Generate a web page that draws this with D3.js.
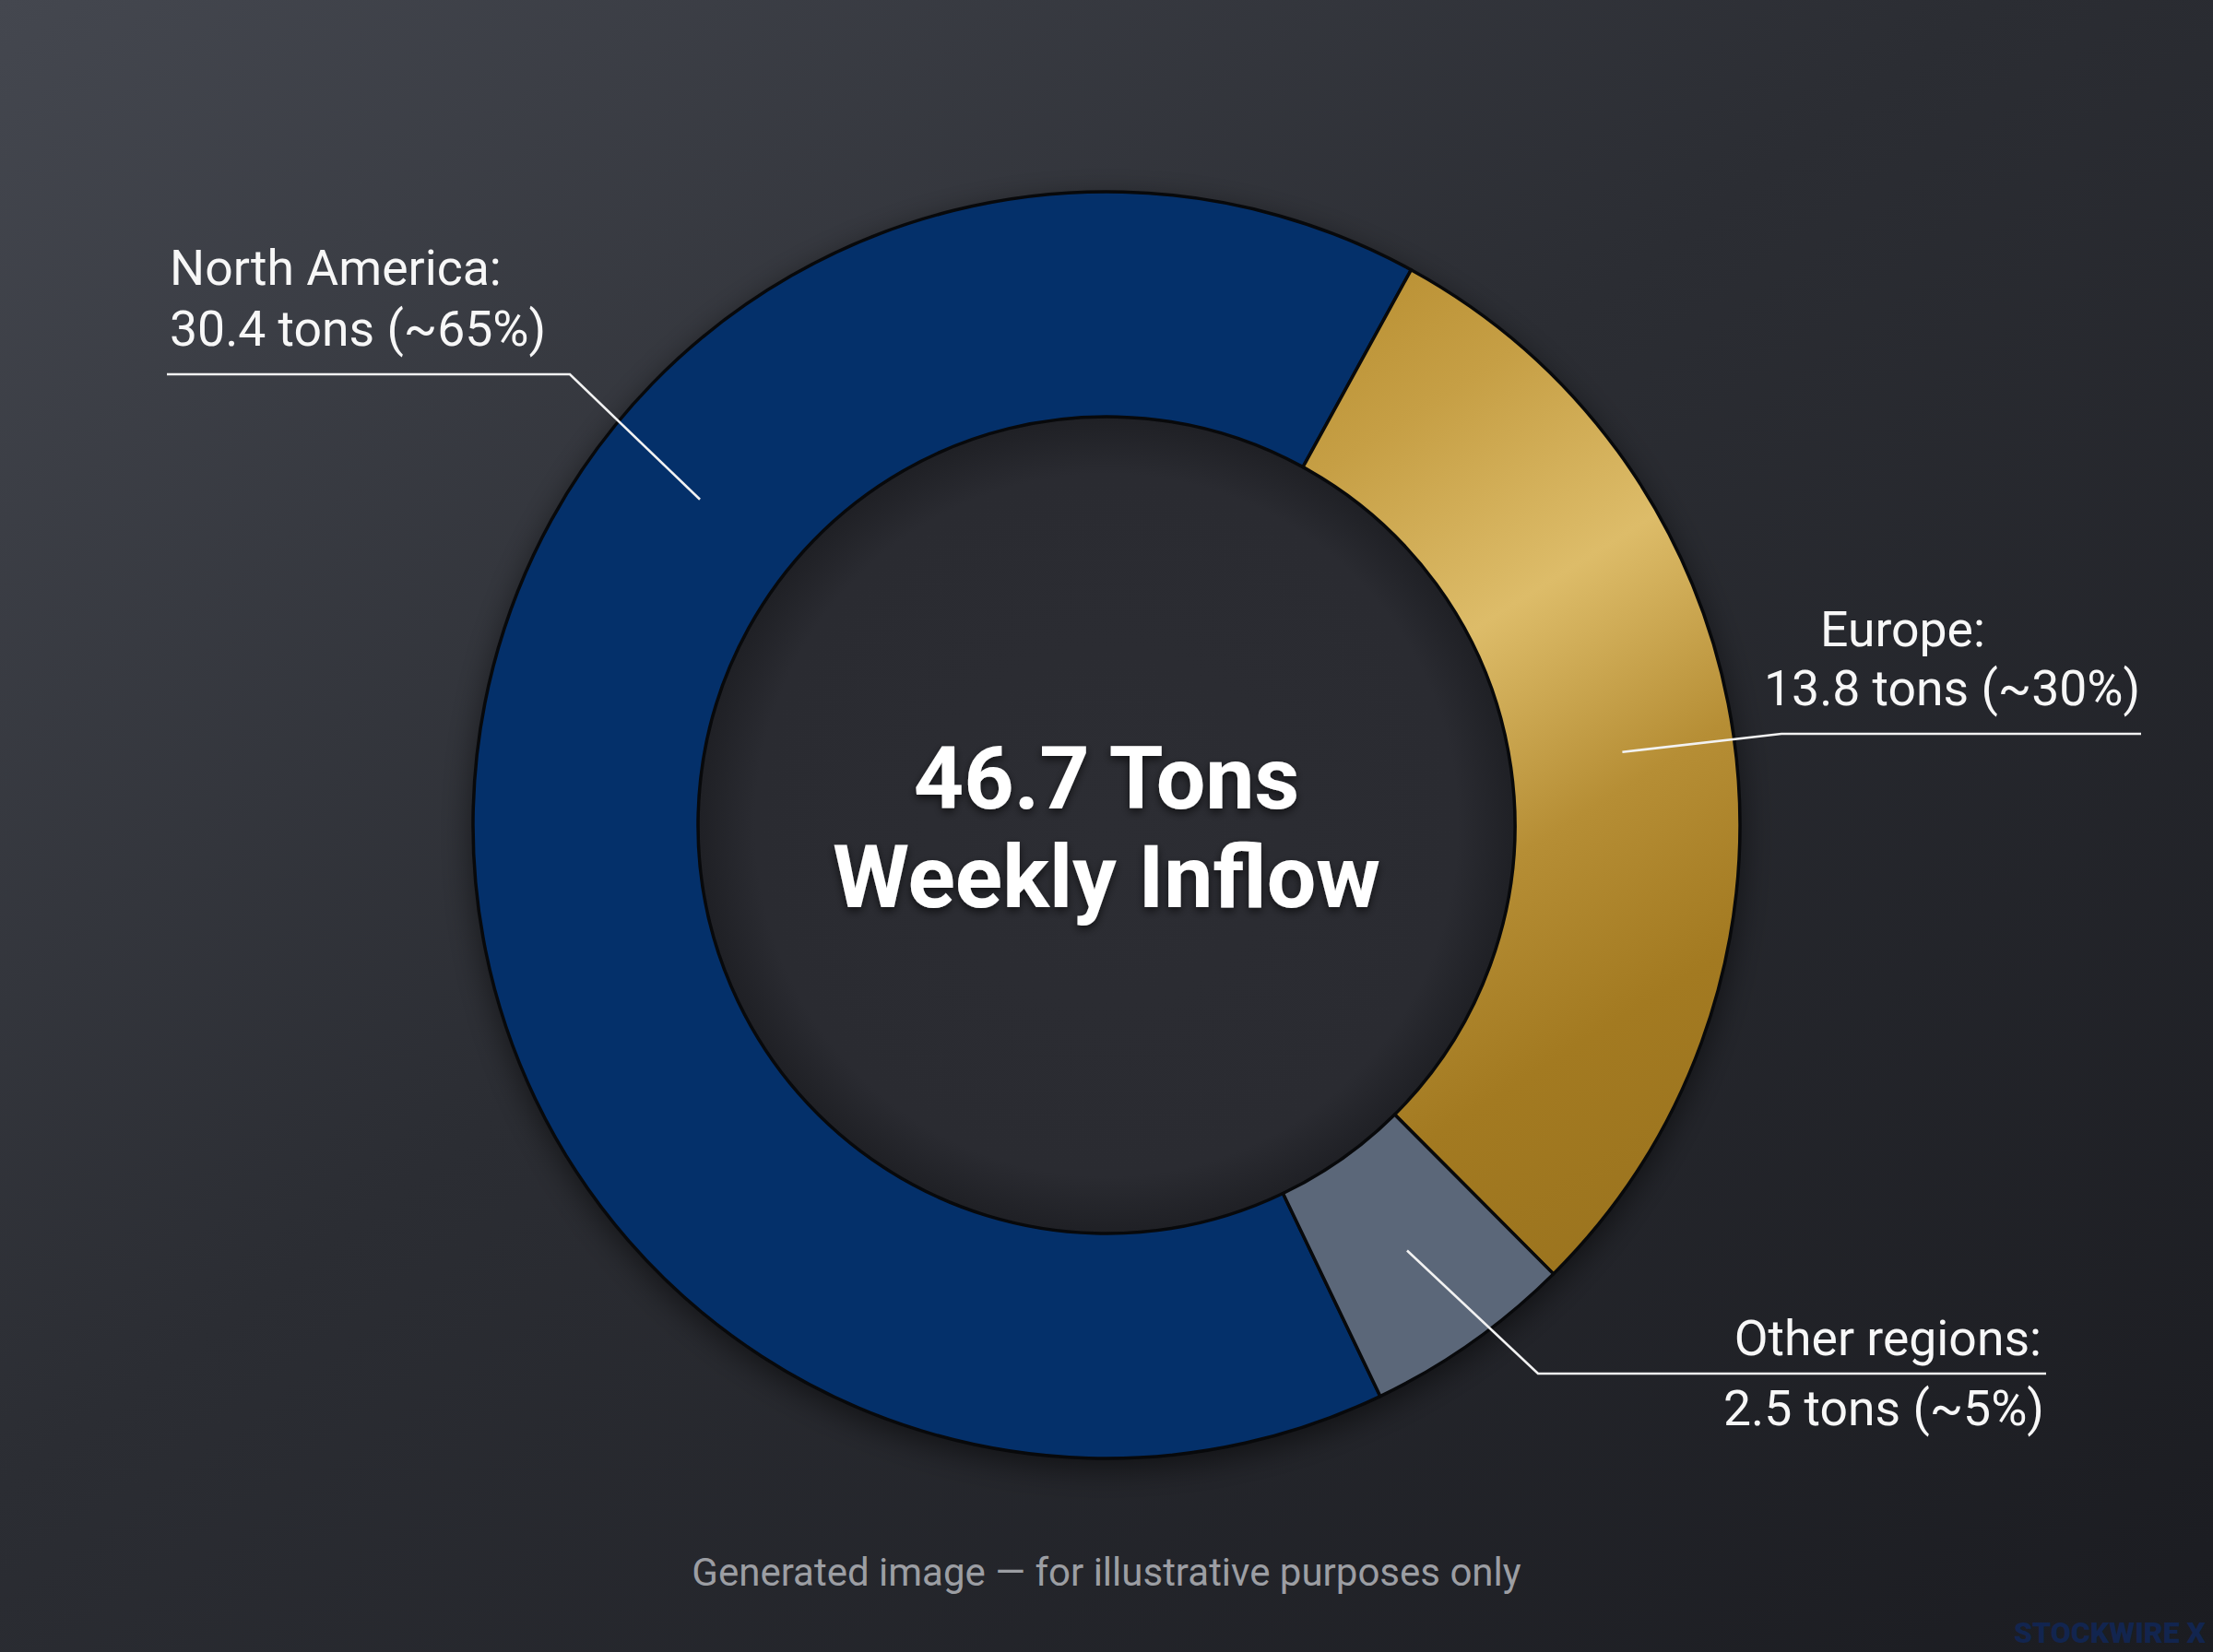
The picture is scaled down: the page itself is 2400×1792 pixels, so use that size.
<!DOCTYPE html>
<html>
<head>
<meta charset="utf-8">
<script src="https://cdn.jsdelivr.net/npm/d3@7"></script>
<style>
  html, body { margin: 0; padding: 0; background: #2a2c32; }
  svg { display: block; }
</style>
</head>
<body>
<svg id="chart" width="2400" height="1792"></svg>
<script>
// ---- Data ----
const categories = ["North America", "Europe", "Other regions"];
const values = [30.4, 13.8, 2.5];
const shareLabels = ["~65%", "~30%", "~5%"];
const totalValue = 46.7;
const centerLines = [totalValue + " Tons", "Weekly Inflow"];
const footerText = "Generated image \u2014 for illustrative purposes only";
const watermarkText = "STOCKWIRE X";

// ---- Layout ----
const W = 2400, H = 1792;
const cx = 1200, cy = 895;
const outerR = 687, innerR = 443;
const startDeg = 154.4;

const svg = d3.select("#chart");
const defs = svg.append("defs");

// background gradient
const bg = defs.append("linearGradient").attr("id", "bg")
  .attr("x1", 0).attr("y1", 0).attr("x2", 1).attr("y2", 1);
bg.append("stop").attr("offset", 0).attr("stop-color", "#44474f");
bg.append("stop").attr("offset", 0.45).attr("stop-color", "#2b2d33");
bg.append("stop").attr("offset", 1).attr("stop-color", "#1b1c21");

// gold gradient (local coordinates of the donut group)
const gold = defs.append("linearGradient").attr("id", "gold")
  .attr("gradientUnits", "userSpaceOnUse")
  .attr("x1", 80).attr("y1", -560).attr("x2", 700).attr("y2", 420);
gold.append("stop").attr("offset", 0).attr("stop-color", "#b48a2c");
gold.append("stop").attr("offset", 0.2).attr("stop-color", "#c69f45");
gold.append("stop").attr("offset", 0.4).attr("stop-color", "#ddbc69");
gold.append("stop").attr("offset", 0.6).attr("stop-color", "#b68e35");
gold.append("stop").attr("offset", 0.78).attr("stop-color", "#a37a21");
gold.append("stop").attr("offset", 1).attr("stop-color", "#9a731e");

// hole gradient (inner shadow)
const hole = defs.append("radialGradient").attr("id", "hole")
  .attr("gradientUnits", "userSpaceOnUse")
  .attr("cx", 0).attr("cy", 0).attr("r", innerR);
hole.append("stop").attr("offset", 0).attr("stop-color", "#2c2d33");
hole.append("stop").attr("offset", 0.86).attr("stop-color", "#2a2b31");
hole.append("stop").attr("offset", 1).attr("stop-color", "#1f2025");

const shadow = defs.append("filter").attr("id", "shadow")
  .attr("x", "-20%").attr("y", "-20%").attr("width", "140%").attr("height", "140%");
shadow.append("feDropShadow").attr("dx", 0).attr("dy", 10)
  .attr("stdDeviation", 18).attr("flood-color", "#000").attr("flood-opacity", 0.55);

const tshadow = defs.append("filter").attr("id", "tshadow")
  .attr("x", "-10%").attr("y", "-30%").attr("width", "120%").attr("height", "160%");
tshadow.append("feDropShadow").attr("dx", 0).attr("dy", 4)
  .attr("stdDeviation", 5).attr("flood-color", "#000").attr("flood-opacity", 0.6);

svg.append("rect").attr("width", W).attr("height", H).attr("fill", "url(#bg)");

const color = d3.scaleOrdinal().domain(categories)
  .range(["#04306a", "url(#gold)", "#5b6779"]);

const pie = d3.pie().sort(null).value(d => d.value)
  .startAngle(startDeg * Math.PI / 180)
  .endAngle(startDeg * Math.PI / 180 + 2 * Math.PI);

const data = categories.map((c, i) => ({ name: c, value: values[i], share: shareLabels[i] }));
const arcs = pie(data);

const arc = d3.arc().innerRadius(innerR).outerRadius(outerR);

const g = svg.append("g").attr("transform", `translate(${cx},${cy})`);

// shadow ring
g.append("g").attr("filter", "url(#shadow)")
  .selectAll("path").data(arcs).join("path")
  .attr("d", arc).attr("fill", d => color(d.data.name));

g.append("circle").attr("r", innerR).attr("fill", "url(#hole)");

g.selectAll("path.slice").data(arcs).join("path")
  .attr("class", "slice")
  .attr("d", arc)
  .attr("fill", d => color(d.data.name))
  .attr("stroke", "#08090b")
  .attr("stroke-width", 3.5)
  .attr("stroke-linejoin", "round");

// center text
const ct = g.append("g").attr("filter", "url(#tshadow)");
ct.selectAll("text").data(centerLines).join("text")
  .attr("x", 0)
  .attr("y", (d, i) => -18 + i * 107)
  .attr("text-anchor", "middle")
  .attr("font-family", "Roboto, 'Noto Sans', sans-serif")
  .attr("font-weight", 700)
  .attr("font-size", 95)
  .attr("fill", "#ffffff")
  .text(d => d);

// ---- Labels ----
const labelLayout = {
  "North America": { anchor: "start", xs: [184, 184], ys: [309, 375], shelf: [618, 181], shelfY: 406, angleDeg: 308.7 },
  "Europe":        { anchor: "start", xs: [1974, 1913], ys: [701, 765], shelf: [1932, 2322], shelfY: 796, angleDeg: null },
  "Other regions": { anchor: "end",   xs: [2214, 2217], ys: [1470, 1546], shelf: [1668, 2219], shelfY: 1490, angleDeg: null }
};
const midR = (innerR + outerR) / 2;

const labels = svg.append("g").attr("class", "labels");
arcs.forEach(a => {
  const L = labelLayout[a.data.name];
  const ang = L.angleDeg === null ? (a.startAngle + a.endAngle) / 2 : L.angleDeg * Math.PI / 180;
  const px = cx + midR * Math.sin(ang), py = cy - midR * Math.cos(ang);
  const path = d3.path();
  path.moveTo(px, py);
  path.lineTo(L.shelf[0], L.shelfY);
  path.lineTo(L.shelf[1], L.shelfY);
  labels.append("path").attr("d", path.toString())
    .attr("fill", "none").attr("stroke", "#f2f2f2").attr("stroke-width", 2.6)
    .attr("stroke-linejoin", "miter");
  const lines = [a.data.name + ":", a.data.value + " tons (" + a.data.share + ")"];
  lines.forEach((t, i) => {
    labels.append("text")
      .attr("x", L.xs[i]).attr("y", L.ys[i])
      .attr("text-anchor", L.anchor)
      .attr("font-family", "Roboto, 'Noto Sans', sans-serif")
      .attr("font-size", 53.5)
      .attr("fill", "#f7f7f7")
      .text(t);
  });
});

// footer
svg.append("text").attr("x", 1200).attr("y", 1720)
  .attr("text-anchor", "middle")
  .attr("font-family", "Roboto, 'Noto Sans', sans-serif")
  .attr("font-size", 42)
  .attr("fill", "#9c9ea3")
  .text(footerText);

// watermark
svg.append("text").attr("x", 2392).attr("y", 1782)
  .attr("text-anchor", "end")
  .attr("font-family", "Roboto, 'Noto Sans', sans-serif")
  .attr("font-weight", 900)
  .attr("font-size", 32)
  .attr("fill", "#12254f")
  .text(watermarkText);
</script>
</body>
</html>
